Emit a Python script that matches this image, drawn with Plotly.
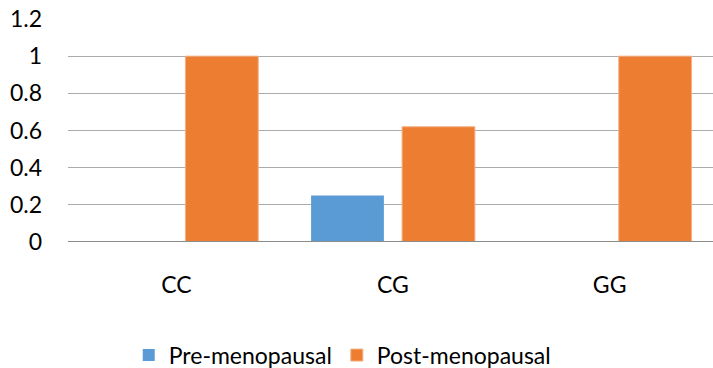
import plotly.graph_objects as go

# Genotype groups and the share observed in each menopausal group
genotypes = ["CC", "CG", "GG"]
pre_menopausal = [0, 0.25, 0]
post_menopausal = [1, 0.62, 1]
y_ticks = [0, 0.2, 0.4, 0.6, 0.8, 1, 1.2]
y_tick_text = ["0", "0.2", "0.4", "0.6", "0.8", "1", "1.2"]

FONT = "Lato"

fig = go.Figure()
fig.add_trace(go.Bar(
    x=genotypes, y=pre_menopausal, name="Pre-menopausal",
    marker=dict(color="#5B9BD5", line=dict(width=0)),
))
fig.add_trace(go.Bar(
    x=genotypes, y=post_menopausal, name="Post-menopausal",
    marker=dict(color="#ED7D31", line=dict(color="#F4B183", width=1)),
))

fig.update_layout(
    width=713, height=368,
    margin=dict(l=68, r=0, t=19, b=126),
    paper_bgcolor="white", plot_bgcolor="white",
    barmode="group", bargap=0.16, bargroupgap=0.2,
    font=dict(family=FONT, size=23, color="#000000"),
    showlegend=True,
    legend=dict(
        orientation="h", xref="container", yref="container",
        x=0.48, xanchor="center", y=0.035, yanchor="middle",
        font=dict(family=FONT, size=23, color="#000000"),
        itemwidth=30, tracegroupgap=0,
    ),
)
fig.update_xaxes(
    type="category", range=[-0.5, 2.477],
    showgrid=False, showline=False, ticks="",
    ticklabelstandoff=27,
    tickfont=dict(family=FONT, size=23, color="#000000"),
)
fig.update_yaxes(
    range=[0, 1.2], tickvals=y_ticks, ticktext=y_tick_text,
    showgrid=True, gridcolor="#ABABAB", gridwidth=1,
    zeroline=False, showline=False, ticks="",
    ticklabelstandoff=25,
    tickfont=dict(family=FONT, size=23, color="#000000"),
)
# baseline drawn along y = 0
fig.add_shape(type="line", xref="paper", yref="y", x0=0, x1=1, y0=0, y1=0,
              line=dict(color="#8C8C8C", width=2), layer="above")

fig.write_html("out.html")
